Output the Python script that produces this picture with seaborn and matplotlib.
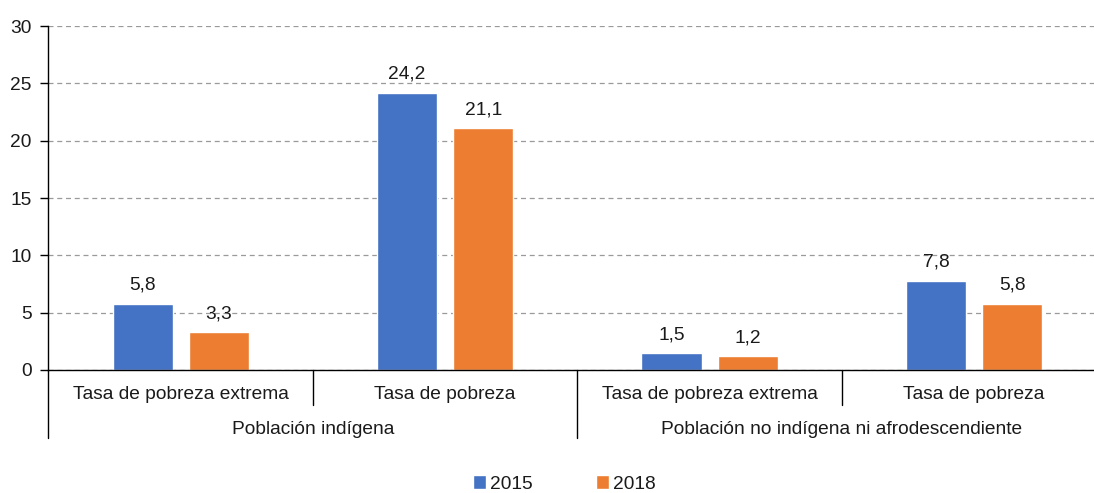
import matplotlib
matplotlib.use("Agg")
import matplotlib.pyplot as plt
import matplotlib.transforms as mtransforms
from matplotlib.patches import Patch
import seaborn as sns
import pandas as pd

# ==========================
# DATA
# ==========================
groups = ["Población indígena", "Población indígena",
          "Población no indígena ni afrodescendiente", "Población no indígena ni afrodescendiente"]
indicators = ["Tasa de pobreza extrema", "Tasa de pobreza",
              "Tasa de pobreza extrema", "Tasa de pobreza"]
values_2015 = [5.8, 24.2, 1.5, 7.8]
values_2018 = [3.3, 21.1, 1.2, 5.8]
years = ["2015", "2018"]
colors = ["#4472C4", "#ED7D31"]

slots = [f"{g} | {i}" for g, i in zip(groups, indicators)]
df = pd.DataFrame({
    "slot": slots * 2,
    "year": [years[0]] * 4 + [years[1]] * 4,
    "value": values_2015 + values_2018,
})

# ==========================
# PLOT
# ==========================
sns.set_style("white")
plt.rcParams["font.family"] = ["Liberation Sans", "DejaVu Sans"]
fs = 13.8
txt = "#1a1a1a"

fig = plt.figure(figsize=(10.94, 4.93), dpi=100)
# plot area runs slightly past the right edge of the image, as in the original
ax = fig.add_axes([0.0443, 0.2495, 0.967, 0.6975])

sns.barplot(data=df, x="slot", y="value", hue="year", order=slots,
            hue_order=years, palette=colors, width=0.576, gap=0.21,
            saturation=1, ax=ax, legend=False)

for cont in ax.containers:
    ax.bar_label(cont, labels=[f"{b.get_height():.1f}".replace(".", ",") for b in cont],
                 padding=7, fontsize=fs, color=txt)

ax.set_ylim(0, 30)
ax.set_yticks(range(0, 31, 5))
ax.set_xlim(-0.5, len(slots) - 0.5)
ax.yaxis.grid(True, linestyle=(0, (4, 3)), color="#9a9a9a", linewidth=0.9)
ax.set_axisbelow(True)
ax.tick_params(axis="y", labelsize=fs, labelcolor=txt, length=6, width=1,
               color="black", left=True, pad=6)
ax.set_xticks([])
ax.set_xlabel("")
ax.set_ylabel("")
for s in ["top", "right"]:
    ax.spines[s].set_visible(False)
for s in ["left", "bottom"]:
    ax.spines[s].set_color("black")
    ax.spines[s].set_linewidth(1)

# multi-level category axis
trans = mtransforms.blended_transform_factory(ax.transData, ax.transAxes)
for k, lab in enumerate(indicators):
    ax.text(k, -0.07, lab, transform=trans, ha="center", va="center", fontsize=fs, color=txt)
for x in [-0.5, 0.5, 1.5, 2.5]:
    low = -0.198 if x in (-0.5, 1.5) else -0.102
    ax.plot([x, x], [0, low], transform=trans, color="black", linewidth=1, clip_on=False)
for g0 in [0, 2]:
    ax.text(g0 + 0.5, -0.172, groups[g0], transform=trans, ha="center", va="center",
            fontsize=fs, color=txt)

handles = [Patch(facecolor=c, label=y) for c, y in zip(colors, years)]
fig.legend(handles=handles, loc="center", bbox_to_anchor=(0.516, 0.018), ncol=2,
           frameon=False, fontsize=fs, handlelength=0.7, handleheight=0.7,
           handletextpad=0.2, columnspacing=3.3, labelcolor=txt,
           borderpad=0.05)

fig.savefig("out.png", dpi=100)
